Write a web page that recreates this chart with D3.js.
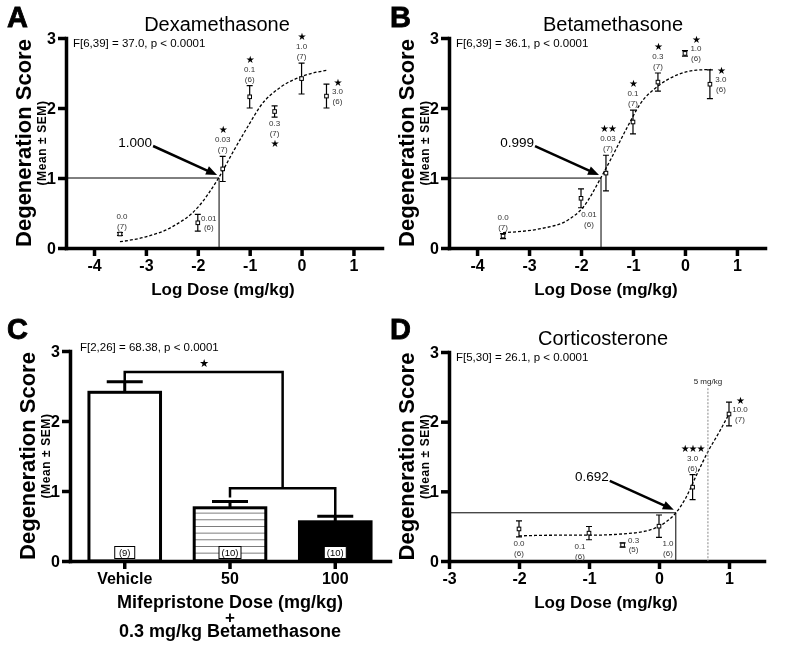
<!DOCTYPE html>
<html lang="en">
<head>
<meta charset="UTF-8">
<title>Degeneration score – dose response</title>
<script src="https://d3js.org/d3.v7.min.js"></script>
<style>
  body { margin: 0; background: #fff; }
  svg { font-family: "Liberation Sans", Arial, Helvetica, sans-serif; will-change: transform; }
  .axis path, .axis line { stroke: #000; stroke-width: 3.5; }
  .axis path { stroke-linecap: square; }
  .axis text { font-size: 16px; font-weight: bold; fill: #000; font-family: "Liberation Sans", Arial, sans-serif; }
  .lbl { font-size: 8px; fill: #333; text-anchor: middle; }
  .star { font-size: 10px; font-family: "DejaVu Sans", sans-serif; text-anchor: middle; letter-spacing: -1px; }
</style>
</head>
<body>
<svg id="chart" width="800" height="661"></svg>
<script>
// ---- A: Dexamethasone ----
const doseA = ["0.0", "0.01", "0.03", "0.1", "0.3", "1.0", "3.0"];
const logA = [-3.5, -2, -1.52, -1, -0.52, 0, 0.48];
const meanA = [0.20, 0.36, 1.13, 2.16, 1.95, 2.42, 2.17];
const semA = [0.02, 0.12, 0.18, 0.16, 0.08, 0.22, 0.17];
const nA = [7, 6, 7, 6, 7, 7, 6];
const starsA = [0, 0, 1, 1, 1, 1, 1];
const fitXA = [-3.5, -3, -2.5, -2, -1.6, -1.3, -1, -0.8, -0.4, 0, 0.5];
const fitYA = [0.09, 0.16, 0.30, 0.58, 1.0, 1.40, 1.78, 2.02, 2.30, 2.45, 2.54];
const ecA = [-1.59, 1.000];
const statA = "F[6,39] = 37.0, p < 0.0001";

// ---- B: Betamethasone ----
const doseB = ["0.0", "0.01", "0.03", "0.1", "0.3", "1.0", "3.0"];
const logB = [-3.5, -2, -1.52, -1, -0.52, 0, 0.48];
const meanB = [0.17, 0.71, 1.07, 1.80, 2.37, 2.78, 2.34];
const semB = [0.035, 0.135, 0.255, 0.17, 0.13, 0.04, 0.205];
const nB = [7, 6, 7, 7, 7, 6, 6];
const starsB = [0, 0, 2, 1, 1, 1, 1];
const fitXB = [-3.5, -2.75, -2.25, -1.95, -1.62, -1.37, -1.1, -0.85, -0.54, -0.16, 0.22, 0.5];
const fitYB = [0.22, 0.28, 0.40, 0.59, 1.0, 1.35, 1.74, 2.07, 2.30, 2.47, 2.54, 2.55];
const ecB = [-1.615, 0.999];
const statB = "F[6,39] = 36.1, p < 0.0001";

// ---- C: Mifepristone + 0.3 mg/kg betamethasone ----
const groupsC = ["Vehicle", "50", "100"];
const meanC = [2.41, 0.76, 0.56];
const semC = [0.15, 0.09, 0.08];
const nC = [9, 10, 10];
const statC = "F[2,26] = 68.38, p < 0.0001";

// ---- D: Corticosterone ----
const doseD = ["0.0", "0.1", "0.3", "1.0", "3.0", "10.0"];
const logD = [-2, -1, -0.52, 0, 0.48, 1];
const meanD = [0.46, 0.40, 0.23, 0.50, 1.06, 2.11];
const semD = [0.115, 0.095, 0.03, 0.16, 0.18, 0.17];
const nD = [6, 6, 5, 6, 6, 7];
const starsD = [0, 0, 0, 0, 3, 1];
const fitXD = [-2, -1.5, -1, -0.5, -0.15, 0.1, 0.24, 0.38, 0.52, 0.71, 0.86, 1.0];
const fitYD = [0.36, 0.37, 0.37, 0.39, 0.44, 0.56, 0.69, 0.90, 1.20, 1.59, 1.85, 2.11];
const ecD = [0.24, 0.692];
const statD = "F[5,30] = 26.1, p < 0.0001";
const markD = [Math.log10(5), 2.48];

const yTicks = [0, 1, 2, 3];

const svg = d3.select('#chart');
const STAR = '\u2605';

function yTitle(axisX, midY) {
    svg.append('text')
        .attr('transform', `translate(${axisX - 35},${midY}) rotate(-90)`)
        .attr('text-anchor', 'middle')
        .style('font-size', '22px').style('font-weight', 'bold')
        .text('Degeneration Score');
    svg.append('text')
        .attr('transform', `translate(${axisX - 20},${midY}) rotate(-90)`)
        .attr('text-anchor', 'middle')
        .style('font-size', '12px').style('font-weight', 'bold').style('letter-spacing', '0.6px')
        .text('(Mean ± SEM)');
}

function panelLetter(t, x, y) {
    svg.append('text').attr('x', x).attr('y', y)
        .style('font-size', '29px').style('font-weight', 'bold')
        .style('stroke', '#000').style('stroke-width', 0.8)
        .text(t);
}

function drawDose(p) {
    const g = svg.append('g');
    const x = d3.scaleLinear().domain(p.xDomain).range(p.xRange);
    const y = d3.scaleLinear().domain([0, 3]).range(p.yRange);
    const y0 = y(0);

    // fitted curve (dashed)
    g.append('path')
        .datum(d3.zip(p.fitX, p.fitY))
        .attr('d', d3.line().x(d => x(d[0])).y(d => y(d[1])).curve(d3.curveMonotoneX))
        .attr('fill', 'none').attr('stroke', '#000')
        .attr('stroke-width', 1.3).attr('stroke-dasharray', '3,2');

    // drop lines at the effective dose
    const ex = x(p.ec[0]), ey = y(p.ec[1]);
    g.append('path')
        .attr('d', `M${p.xRange[0]},${ey}H${ex}V${y0}`)
        .attr('fill', 'none').attr('stroke', '#000').attr('stroke-width', 1);

    // arrow + value
    const sx = ex - 66, sy = ey - 32, tx = ex - 2, ty = ey - 3;
    const ang = Math.atan2(ty - sy, tx - sx);
    const hl = 11, hw = 4.5;
    const bx = tx - hl * Math.cos(ang), by = ty - hl * Math.sin(ang);
    g.append('line')
        .attr('x1', sx).attr('y1', sy)
        .attr('x2', bx + 2 * Math.cos(ang)).attr('y2', by + 2 * Math.sin(ang))
        .attr('stroke', '#000').attr('stroke-width', 2.5);
    g.append('path')
        .attr('d', `M${tx},${ty}L${bx - hw * Math.sin(ang)},${by + hw * Math.cos(ang)}L${bx + hw * Math.sin(ang)},${by - hw * Math.cos(ang)}Z`)
        .attr('fill', '#000');
    g.append('text')
        .attr('x', sx - 1).attr('y', sy + 0.5)
        .attr('text-anchor', 'end').style('font-size', '13.5px')
        .text(d3.format('.3f')(p.ec[1]));

    // axes
    g.append('g').attr('class', 'axis')
        .attr('transform', `translate(0,${y0})`)
        .call(d3.axisBottom(x).tickValues(p.xTicks).tickFormat(d => String(d))
            .tickSize(8).tickSizeOuter(0).tickPadding(4));
    g.append('g').attr('class', 'axis')
        .attr('transform', `translate(${p.xRange[0]},0)`)
        .call(d3.axisLeft(y).tickValues(yTicks).tickFormat(d => String(d))
            .tickSize(8).tickSizeOuter(0).tickPadding(2));

    // error bars + points
    const rows = p.log.map((lx, i) => ({
        i,
        px: x(lx),
        py: y(p.mean[i]),
        top: y(p.mean[i] + p.sem[i]),
        bot: y(p.mean[i] - p.sem[i])
    }));
    g.selectAll('.err').data(rows).join('path')
        .attr('class', 'err')
        .attr('d', r => `M${r.px - 3},${r.top}H${r.px + 3}M${r.px},${r.top}V${r.bot}M${r.px - 3},${r.bot}H${r.px + 3}`)
        .attr('fill', 'none').attr('stroke', '#000').attr('stroke-width', 1.2);
    g.selectAll('.pt').data(rows).join('rect')
        .attr('class', 'pt')
        .attr('x', r => r.px - 1.8).attr('y', r => r.py - 1.8)
        .attr('width', 3.6).attr('height', 3.6)
        .attr('fill', '#fff').attr('stroke', '#000').attr('stroke-width', 1);

    // dose / n / significance labels
    rows.forEach(r => {
        const mode = p.place[r.i];
        let lx = r.px + p.placeDx[r.i], yd, yn, ys;
        if (mode === 'above') { ys = r.top - 26.5; yd = r.top - 17; yn = r.top - 7; }
        else if (mode === 'below') { yd = r.bot + 6; yn = r.bot + 16; ys = r.bot + 26; }
        else { lx += 11; ys = r.py - 14; yd = r.py - 5; yn = r.py + 4.5; }
        g.append('text').attr('class', 'lbl').attr('x', lx).attr('y', yd + 3).text(p.dose[r.i]);
        g.append('text').attr('class', 'lbl').attr('x', lx).attr('y', yn + 3).text(`(${p.n[r.i]})`);
        if (p.stars[r.i]) {
            g.append('text').attr('class', 'star').attr('x', lx).attr('y', ys + 3.6)
                .text(STAR.repeat(p.stars[r.i]));
        }
    });

    // title, stats, x title
    if (p.title) {
        svg.append('text').attr('x', p.title[1]).attr('y', p.title[2])
            .attr('text-anchor', 'middle').style('font-size', '20px').text(p.title[0]);
    }
    svg.append('text').attr('x', p.xRange[0] + 7).attr('y', p.yRange[1] + p.statDy)
        .style('font-size', '11.5px').text(p.stat);
    svg.append('text').attr('x', p.xTitleX).attr('y', y0 + 46.5)
        .attr('text-anchor', 'middle').style('font-size', '17px').style('font-weight', 'bold')
        .text('Log Dose (mg/kg)');
    yTitle(p.xRange[0], (p.yRange[0] + p.yRange[1]) / 2);
    return { g, x, y };
}

// Panel A
drawDose({
    xDomain: [-4.54, 1.55], xRange: [66, 382], yRange: [248, 38],
    xTicks: [-4, -3, -2, -1, 0, 1],
    log: logA, mean: meanA, sem: semA, dose: doseA, n: nA, stars: starsA,
    fitX: fitXA, fitY: fitYA, ec: ecA, stat: statA, statDy: 8.7,
    place: ["above", "right", "above", "above", "below", "above", "right"],
    placeDx: [2, 0, 0, 0, 0, 0, 0],
    title: ["Dexamethasone", 217, 31], xTitleX: 223
});

// Panel B
drawDose({
    xDomain: [-4.54, 1.54], xRange: [449, 765], yRange: [248, 38],
    xTicks: [-4, -3, -2, -1, 0, 1],
    log: logB, mean: meanB, sem: semB, dose: doseB, n: nB, stars: starsB,
    fitX: fitXB, fitY: fitYB, ec: ecB, stat: statB, statDy: 8.7,
    place: ["above", "below", "above", "above", "above", "right", "right"],
    placeDx: [0, 8, 2, 0, 0, 0, 0],
    title: ["Betamethasone", 613, 31], xTitleX: 606
});

// Panel D
const pd = drawDose({
    xDomain: [-3, 1.5], xRange: [449, 764], yRange: [561, 352],
    xTicks: [-3, -2, -1, 0, 1],
    log: logD, mean: meanD, sem: semD, dose: doseD, n: nD, stars: starsD,
    fitX: fitXD, fitY: fitYD, ec: ecD, stat: statD, statDy: 9,
    place: ["below", "below", "right", "below", "above", "right"],
    placeDx: [0, -9, 0, 9, 0, 0],
    title: ["Corticosterone", 603, 345], xTitleX: 606
});
// 5 mg/kg marker
pd.g.append('line')
    .attr('x1', pd.x(markD[0])).attr('x2', pd.x(markD[0]))
    .attr('y1', pd.y(markD[1])).attr('y2', pd.y(0))
    .attr('stroke', '#888').attr('stroke-width', 1).attr('stroke-dasharray', '2,1.5');
pd.g.append('text').attr('class', 'lbl').style('fill', '#222')
    .attr('x', pd.x(markD[0])).attr('y', pd.y(markD[1]) - 4)
    .text('5 mg/kg');

// Panel C (bars)
(function () {
    const g = svg.append('g');
    const x = d3.scaleBand().domain(groupsC).range([70, 390]).paddingInner(0.32).paddingOuter(0.18);
    const y = d3.scaleLinear().domain([0, 3]).range([561, 351]);
    const cx = d => x(d) + x.bandwidth() / 2;

    const defs = svg.append('defs');
    const pat = defs.append('pattern').attr('id', 'hatch')
        .attr('patternUnits', 'userSpaceOnUse').attr('width', 10).attr('height', 6.67);
    pat.append('rect').attr('width', 10).attr('height', 6.67).attr('fill', '#fff');
    pat.append('line').attr('x1', 0).attr('x2', 10).attr('y1', 6.4).attr('y2', 6.4)
        .attr('stroke', '#555').attr('stroke-width', 1);
    const fills = ['#fff', 'url(#hatch)', '#000'];

    const rows = groupsC.map((k, i) => ({ k, i, m: meanC[i], s: semC[i], n: nC[i] }));

    // error bars (drawn under bars so stems start at bar tops)
    g.selectAll('.cerr').data(rows).join('path')
        .attr('class', 'cerr')
        .attr('d', r => `M${cx(r.k)},${y(r.m)}V${y(r.m + r.s)}M${cx(r.k) - 18},${y(r.m + r.s)}H${cx(r.k) + 18}`)
        .attr('fill', 'none').attr('stroke', '#000').attr('stroke-width', 3);

    g.selectAll('.bar').data(rows).join('rect')
        .attr('class', 'bar')
        .attr('x', r => x(r.k)).attr('width', x.bandwidth())
        .attr('y', r => y(r.m)).attr('height', r => y(0) - y(r.m))
        .attr('fill', r => fills[r.i]).attr('stroke', '#000').attr('stroke-width', 3);

    // group sizes in boxes
    rows.forEach(r => {
        const w = String(r.n).length > 1 ? 22 : 20;
        g.append('rect').attr('x', cx(r.k) - w / 2).attr('y', 546.5).attr('width', w).attr('height', 12)
            .attr('fill', '#fff').attr('stroke', '#000').attr('stroke-width', 1);
        g.append('text').attr('x', cx(r.k)).attr('y', 556).attr('text-anchor', 'middle')
            .style('font-size', '9.5px').text(`(${r.n})`);
    });

    // significance brackets
    const mid = (cx(groupsC[1]) + cx(groupsC[2])) / 2;
    const bTop = 2.7, bMid = 1.04;
    g.append('path')
        .attr('d', `M${cx(groupsC[0])},${y(meanC[0] + semC[0])}V${y(bTop)}H${mid}V${y(bMid)}`)
        .attr('fill', 'none').attr('stroke', '#000').attr('stroke-width', 2.5);
    g.append('path')
        .attr('d', `M${cx(groupsC[1])},${y(meanC[1] + semC[1]) - 4}V${y(bMid)}H${cx(groupsC[2])}V${y(meanC[2] + semC[2])}`)
        .attr('fill', 'none').attr('stroke', '#000').attr('stroke-width', 2.5);
    g.append('text').attr('class', 'star').style('font-size', '11px')
        .attr('x', (cx(groupsC[0]) + mid) / 2).attr('y', y(bTop) - 9.5 + 4).text(STAR);

    // axes
    g.append('g').attr('class', 'axis').attr('transform', `translate(0,${y(0)})`)
        .call(d3.axisBottom(x).tickSize(8).tickSizeOuter(0).tickPadding(4));
    g.append('g').attr('class', 'axis').attr('transform', 'translate(70,0)')
        .call(d3.axisLeft(y).tickValues(yTicks).tickFormat(d => String(d))
            .tickSize(8).tickSizeOuter(0).tickPadding(2));

    svg.append('text').attr('x', 80).attr('y', 350.5).style('font-size', '11.5px').text(statC);

    // three-line x title as one text block
    const tx = cx(groupsC[1]);
    const xt = svg.append('text').attr('text-anchor', 'middle').style('font-weight', 'bold');
    xt.append('tspan').attr('x', tx).attr('y', 607.5).style('font-size', '18px').text('Mifepristone Dose (mg/kg)');
    xt.append('tspan').attr('x', tx).attr('y', 623).style('font-size', '17px').text('+');
    xt.append('tspan').attr('x', tx).attr('y', 637).style('font-size', '18px').text('0.3 mg/kg Betamethasone');
    yTitle(70, 456);
})();

panelLetter('A', 7, 27);
panelLetter('B', 390, 27);
panelLetter('C', 7, 339);
panelLetter('D', 390, 339);
</script>
</body>
</html>
